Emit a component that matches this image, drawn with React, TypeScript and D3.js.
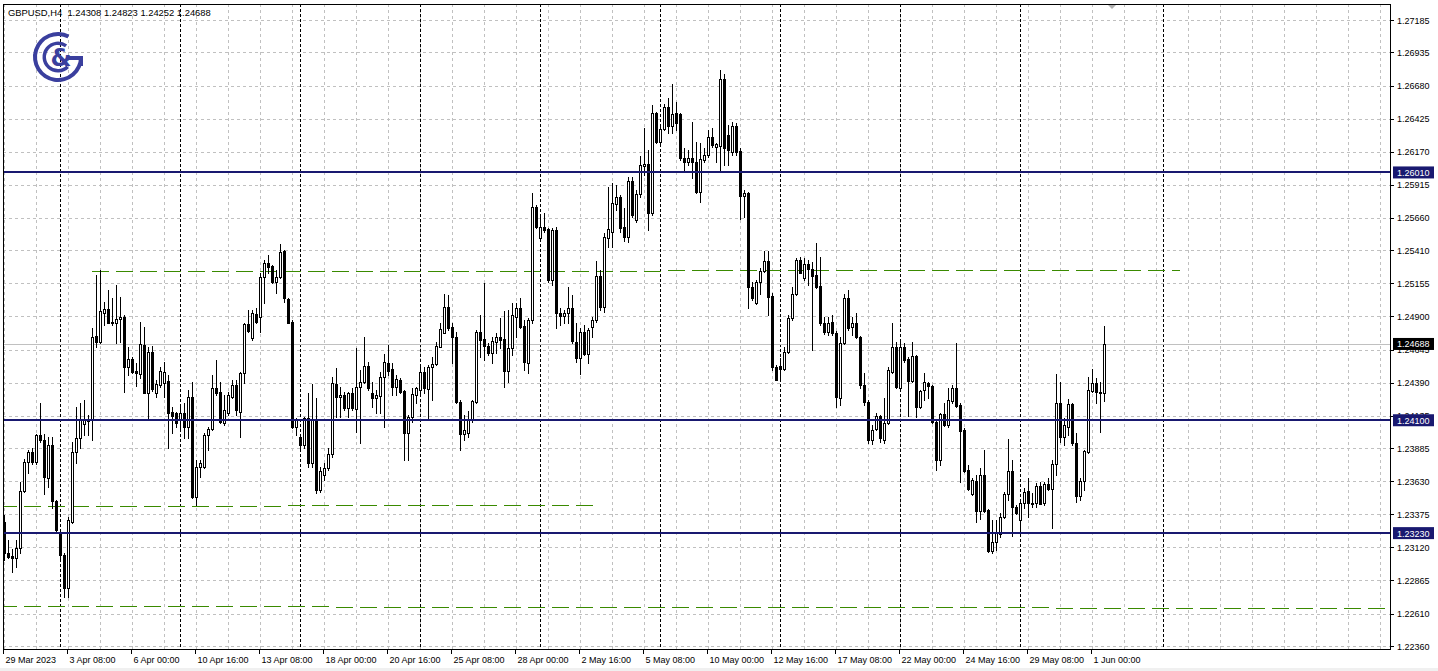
import * as d3 from 'd3'

const symbol = 'GBPUSD,H4'

// bar 0 = 29 Mar 2023 16:00, H4 bars
const open = [
  1.23316, 1.23077, 1.23054, 1.23038, 1.23115, 1.23554, 1.23779, 1.23856, 1.23779, 1.23986,
  1.23948, 1.23655, 1.23909, 1.23477, 1.23231, 1.23061, 1.22807, 1.23316, 1.23856, 1.23963,
  1.24071, 1.24094, 1.24102, 1.2475, 1.24704, 1.24927, 1.24958, 1.24858, 1.2485, 1.24881,
  1.24896, 1.2451, 1.24573, 1.24479, 1.24456, 1.2468, 1.2431, 1.24627, 1.2431, 1.24371,
  1.24387, 1.24402, 1.24164, 1.24156, 1.2411, 1.24156, 1.24048, 1.24279, 1.23508, 1.2374,
  1.2374, 1.23986, 1.24033, 1.24348, 1.24318, 1.24079, 1.24156, 1.24279, 1.24371, 1.24164,
  1.24464, 1.24842, 1.24734, 1.24919, 1.24896, 1.25204, 1.25312, 1.25289, 1.25166, 1.25204,
  1.25404, 1.25035, 1.24858, 1.24048, 1.23971, 1.23909, 1.24117, 1.23771, 1.24102, 1.23562,
  1.23678, 1.23732, 1.2384, 1.24379, 1.24279, 1.24294, 1.24194, 1.2431, 1.24187, 1.24356,
  1.24395, 1.24518, 1.2431, 1.24271, 1.24287, 1.24433, 1.24541, 1.24495, 1.24356, 1.2441,
  1.24325, 1.24002, 1.24125, 1.24294, 1.24333, 1.24472, 1.24341, 1.2451, 1.24533, 1.24665,
  1.24773, 1.24973, 1.24819, 1.24742, 1.24241, 1.23994, 1.24002, 1.24102, 1.24241, 1.24781,
  1.24727, 1.24673, 1.24619, 1.24704, 1.24742, 1.24727, 1.24479, 1.24657, 1.24896, 1.24965,
  1.24827, 1.24541, 1.24873, 1.25744, 1.25505, 1.2559, 1.25575, 1.25181, 1.25567, 1.24927,
  1.24904, 1.24927, 1.24965, 1.24704, 1.2458, 1.24781, 1.24611, 1.24819, 1.24873, 1.25212,
  1.24973, 1.25505, 1.25552, 1.25767, 1.25821, 1.2559, 1.25513, 1.25944, 1.25644, 1.25844,
  1.2606, 1.26075, 1.25698, 1.26468, 1.26245, 1.26345, 1.26515, 1.26368, 1.26468, 1.2646,
  1.26121, 1.26091, 1.26121, 1.26091, 1.2586, 1.26106, 1.26144, 1.26283, 1.26206, 1.26214,
  1.26731, 1.26298, 1.26168, 1.26368, 1.26175, 1.25829, 1.25852, 1.25127, 1.25004, 1.25166,
  1.2525, 1.25327, 1.25058, 1.2451, 1.24518, 1.24495, 1.24627, 1.24888, 1.25073, 1.25335,
  1.25196, 1.25304, 1.25266, 1.25219, 1.25135, 1.2485, 1.24781, 1.24858, 1.24773, 1.24271,
  1.24696, 1.25042, 1.24819, 1.2485, 1.24742, 1.24371, 1.24241, 1.23948, 1.24033, 1.24133,
  1.23948, 1.24079, 1.24472, 1.24665, 1.24348, 1.24665, 1.24573, 1.24402, 1.24596, 1.24202,
  1.24333, 1.24387, 1.24364, 1.24087, 1.23794, 1.24148, 1.24063, 1.24248, 1.24348, 1.24217,
  1.24025, 1.23717, 1.23531, 1.23632, 1.234, 1.23678, 1.23408, 1.23092, 1.23162, 1.23223,
  1.23354, 1.23531, 1.23709, 1.23431, 1.23331, 1.23462, 1.23554, 1.23462, 1.23462, 1.23594,
  1.23462, 1.23609, 1.23571, 1.23763, 1.24233, 1.23971, 1.24048, 1.24225, 1.23925, 1.23516,
  1.23632, 1.23856, 1.24325, 1.24387, 1.24318, 1.24308,
]

const high = [
  1.23369, 1.23177, 1.23108, 1.23177, 1.23625, 1.23802, 1.23871, 1.23886, 1.23994, 1.24233,
  1.23994, 1.23971, 1.23971, 1.23485, 1.23239, 1.23077, 1.23354, 1.23933, 1.24202, 1.24233,
  1.24256, 1.2414, 1.24811, 1.25219, 1.25258, 1.25012, 1.25104, 1.25042, 1.25142, 1.2505,
  1.24911, 1.24665, 1.24588, 1.24541, 1.24858, 1.24819, 1.24665, 1.24673, 1.2441, 1.2451,
  1.24549, 1.24448, 1.24202, 1.24164, 1.24202, 1.24233, 1.24333, 1.24395, 1.23794, 1.23794,
  1.24002, 1.24048, 1.24448, 1.24564, 1.24395, 1.24294, 1.24318, 1.2441, 1.2441, 1.24472,
  1.2485, 1.2495, 1.2495, 1.24965, 1.25235, 1.25335, 1.25373, 1.25296, 1.25258, 1.25458,
  1.25412, 1.25042, 1.24873, 1.24117, 1.23986, 1.24125, 1.2431, 1.24379, 1.24271, 1.2374,
  1.23771, 1.23886, 1.24433, 1.24502, 1.24356, 1.24318, 1.24318, 1.24348, 1.24657, 1.24487,
  1.24742, 1.24549, 1.24395, 1.24333, 1.24472, 1.24611, 1.2468, 1.24541, 1.24448, 1.24425,
  1.24333, 1.2414, 1.24348, 1.24356, 1.24525, 1.2451, 1.24525, 1.24588, 1.24704, 1.2485,
  1.25073, 1.25065, 1.2485, 1.24781, 1.24256, 1.2414, 1.24171, 1.24256, 1.24796, 1.24911,
  1.25158, 1.24696, 1.24742, 1.24773, 1.24888, 1.24942, 1.2495, 1.25004, 1.25004, 1.25042,
  1.24873, 1.24888, 1.25852, 1.25759, 1.25682, 1.25698, 1.25582, 1.25582, 1.2559, 1.24965,
  1.2495, 1.25127, 1.25065, 1.2485, 1.24811, 1.24834, 1.24811, 1.24896, 1.25327, 1.25258,
  1.25544, 1.25898, 1.25929, 1.25913, 1.25836, 1.25736, 1.25975, 1.25975, 1.25875, 1.26137,
  1.26352, 1.26183, 1.2653, 1.26476, 1.26375, 1.26538, 1.26584, 1.26692, 1.26553, 1.26468,
  1.26198, 1.26183, 1.26399, 1.26245, 1.26237, 1.26198, 1.26337, 1.26352, 1.26237, 1.268,
  1.26769, 1.26375, 1.26399, 1.26391, 1.26198, 1.25875, 1.2586, 1.25166, 1.25181, 1.25273,
  1.25404, 1.25404, 1.25081, 1.24525, 1.2458, 1.24665, 1.24911, 1.25127, 1.2535, 1.25358,
  1.2535, 1.25335, 1.2532, 1.25466, 1.25358, 1.24896, 1.24896, 1.24911, 1.24788, 1.24742,
  1.25073, 1.25104, 1.24896, 1.24927, 1.2475, 1.24464, 1.24256, 1.24063, 1.24156, 1.2414,
  1.24271, 1.2451, 1.2485, 1.24704, 1.24719, 1.24696, 1.24588, 1.24704, 1.24603, 1.24333,
  1.24464, 1.24395, 1.24371, 1.24102, 1.24156, 1.24233, 1.24348, 1.24371, 1.24696, 1.24233,
  1.2404, 1.23756, 1.23655, 1.23678, 1.23732, 1.23871, 1.23416, 1.23331, 1.23331, 1.23385,
  1.23547, 1.23956, 1.23794, 1.23446, 1.2347, 1.23578, 1.23655, 1.23539, 1.23617, 1.23625,
  1.23625, 1.23655, 1.23794, 1.24456, 1.24395, 1.24117, 1.24264, 1.24233, 1.24002, 1.23655,
  1.23871, 1.24433, 1.24495, 1.24425, 1.24395, 1.24823,
]

const low = [
  1.23023, 1.23038, 1.22931, 1.22969, 1.23077, 1.23547, 1.23694, 1.23763, 1.23763, 1.23933,
  1.23531, 1.23586, 1.23423, 1.23231, 1.23038, 1.22738, 1.22738, 1.23308, 1.23771, 1.23886,
  1.23986, 1.23986, 1.23948, 1.24665, 1.24696, 1.24834, 1.2485, 1.24834, 1.24696, 1.24704,
  1.24318, 1.24448, 1.24464, 1.24364, 1.24425, 1.2431, 1.2411, 1.24325, 1.24279, 1.24356,
  1.24279, 1.23886, 1.24002, 1.24048, 1.2404, 1.23963, 1.23963, 1.235, 1.23446, 1.23663,
  1.23732, 1.23871, 1.24025, 1.24294, 1.24079, 1.24063, 1.2414, 1.24271, 1.2414, 1.23971,
  1.24387, 1.24781, 1.24719, 1.2485, 1.24781, 1.25004, 1.25235, 1.25158, 1.25081, 1.25196,
  1.25012, 1.2485, 1.2404, 1.23986, 1.23886, 1.23886, 1.2374, 1.2374, 1.23539, 1.23547,
  1.2364, 1.23717, 1.23817, 1.24125, 1.24125, 1.24179, 1.24125, 1.24179, 1.2401, 1.23925,
  1.24387, 1.24333, 1.24202, 1.24156, 1.24156, 1.24048, 1.24448, 1.24294, 1.24294, 1.2431,
  1.23794, 1.23794, 1.24087, 1.24233, 1.2431, 1.2431, 1.24102, 1.24256, 1.24525, 1.24665,
  1.24773, 1.24796, 1.24541, 1.24233, 1.23871, 1.23948, 1.23971, 1.24087, 1.24233, 1.24588,
  1.24564, 1.24603, 1.24541, 1.24619, 1.24657, 1.24356, 1.24395, 1.24603, 1.24742, 1.24811,
  1.24487, 1.24464, 1.2485, 1.25582, 1.25489, 1.25552, 1.25166, 1.25142, 1.24811, 1.24834,
  1.2485, 1.2485, 1.24696, 1.24549, 1.24456, 1.24603, 1.24541, 1.24742, 1.24858, 1.2495,
  1.24935, 1.25435, 1.25435, 1.25721, 1.25552, 1.25481, 1.25474, 1.25667, 1.25629, 1.25821,
  1.2599, 1.25567, 1.25682, 1.26237, 1.26237, 1.26337, 1.26314, 1.26314, 1.26337, 1.26106,
  1.26029, 1.26067, 1.25967, 1.25852, 1.25783, 1.26091, 1.26129, 1.26206, 1.26091, 1.26014,
  1.26067, 1.26067, 1.26144, 1.26144, 1.25652, 1.25667, 1.24965, 1.25027, 1.24996, 1.25073,
  1.25243, 1.24911, 1.24487, 1.2441, 1.24425, 1.24487, 1.24619, 1.24873, 1.25065, 1.25235,
  1.25181, 1.25142, 1.24642, 1.25119, 1.24834, 1.24765, 1.24757, 1.24757, 1.24202, 1.24217,
  1.24688, 1.24796, 1.24757, 1.24734, 1.24348, 1.24217, 1.23925, 1.23917, 1.24025, 1.23933,
  1.23925, 1.24071, 1.24464, 1.24348, 1.24333, 1.24549, 1.24133, 1.24395, 1.24125, 1.24194,
  1.24256, 1.24271, 1.24079, 1.23717, 1.23756, 1.24056, 1.24048, 1.24233, 1.24202, 1.23625,
  1.23702, 1.23562, 1.23523, 1.23316, 1.23339, 1.23393, 1.23085, 1.23077, 1.231, 1.232,
  1.23346, 1.23485, 1.23208, 1.23377, 1.23231, 1.23423, 1.23354, 1.23431, 1.23431, 1.23462,
  1.23446, 1.23562, 1.23269, 1.23678, 1.23933, 1.23909, 1.23986, 1.23909, 1.2347, 1.23485,
  1.23562, 1.23848, 1.24318, 1.24233, 1.2401, 1.24252,
]

const close = [
  1.23077, 1.23046, 1.23038, 1.23115, 1.23554, 1.23779, 1.23856, 1.23779, 1.23986, 1.23948,
  1.23663, 1.23909, 1.23477, 1.23254, 1.23061, 1.22807, 1.23331, 1.23856, 1.23963, 1.24102,
  1.24102, 1.24102, 1.24742, 1.24704, 1.24942, 1.24958, 1.2485, 1.2485, 1.24881, 1.24896,
  1.2451, 1.24573, 1.24472, 1.24464, 1.24688, 1.2431, 1.24627, 1.24341, 1.24379, 1.24479,
  1.24472, 1.24156, 1.24133, 1.24079, 1.24156, 1.24048, 1.24279, 1.23508, 1.2374, 1.23771,
  1.23986, 1.24033, 1.24348, 1.2431, 1.24087, 1.24179, 1.24294, 1.24371, 1.24179, 1.24464,
  1.24842, 1.24788, 1.24927, 1.24858, 1.25204, 1.25312, 1.25281, 1.25166, 1.25204, 1.25397,
  1.25042, 1.2485, 1.24048, 1.24102, 1.23909, 1.24117, 1.23771, 1.24102, 1.23562, 1.23709,
  1.23732, 1.2384, 1.24387, 1.24279, 1.24294, 1.24194, 1.2431, 1.24194, 1.24356, 1.24395,
  1.24518, 1.24348, 1.24271, 1.24294, 1.24433, 1.24549, 1.24479, 1.24356, 1.24418, 1.24318,
  1.24002, 1.24125, 1.24302, 1.24348, 1.24472, 1.24348, 1.2451, 1.24533, 1.24673, 1.24804,
  1.24973, 1.24811, 1.24742, 1.24241, 1.23994, 1.24025, 1.24102, 1.24248, 1.24781, 1.24719,
  1.24673, 1.24619, 1.24711, 1.24742, 1.24719, 1.24479, 1.24657, 1.24911, 1.24965, 1.24819,
  1.24549, 1.24873, 1.25744, 1.2559, 1.2559, 1.25567, 1.25181, 1.25567, 1.24927, 1.24904,
  1.24927, 1.24965, 1.24711, 1.2458, 1.24781, 1.24611, 1.24796, 1.24873, 1.25212, 1.24973,
  1.25513, 1.25575, 1.25775, 1.25821, 1.25582, 1.25513, 1.25944, 1.25682, 1.25844, 1.26067,
  1.26075, 1.25698, 1.26468, 1.26245, 1.26345, 1.26515, 1.26368, 1.2646, 1.26391, 1.26121,
  1.26091, 1.26121, 1.26091, 1.2586, 1.26114, 1.26144, 1.26283, 1.26221, 1.26229, 1.26731,
  1.26198, 1.26183, 1.26368, 1.26168, 1.25829, 1.25852, 1.25127, 1.25042, 1.25166, 1.2525,
  1.25327, 1.2505, 1.2451, 1.2441, 1.24495, 1.24627, 1.24888, 1.25073, 1.25335, 1.25235,
  1.25304, 1.25266, 1.25212, 1.25127, 1.2485, 1.24781, 1.2485, 1.24773, 1.24279, 1.24696,
  1.25042, 1.24811, 1.2485, 1.24742, 1.24371, 1.24241, 1.23948, 1.24025, 1.24133, 1.23963,
  1.24079, 1.24487, 1.24665, 1.24356, 1.24665, 1.24564, 1.24402, 1.24596, 1.24202, 1.24325,
  1.24395, 1.24364, 1.24087, 1.23794, 1.24148, 1.24063, 1.24256, 1.24348, 1.2421, 1.24017,
  1.23709, 1.23571, 1.2364, 1.234, 1.23678, 1.234, 1.23092, 1.23162, 1.23231, 1.23354,
  1.23531, 1.23709, 1.23431, 1.23385, 1.23462, 1.23547, 1.23462, 1.23454, 1.23594, 1.23458,
  1.23609, 1.23571, 1.23763, 1.24233, 1.23971, 1.24063, 1.24225, 1.23925, 1.23516, 1.23632,
  1.23863, 1.24333, 1.24387, 1.24318, 1.2431, 1.24688,
]

const priceTicks = [
  1.2236, 1.2261, 1.22865, 1.2312, 1.23375, 1.2363, 1.23885, 1.24135, 1.2439, 1.24645,
  1.249, 1.25155, 1.2541, 1.2566, 1.25915, 1.2617, 1.26425, 1.2668, 1.26935, 1.27185,
]

// one label every 16 bars
const timeLabels = [
  '29 Mar 2023', '3 Apr 08:00', '6 Apr 00:00', '10 Apr 16:00', '13 Apr 08:00', '18 Apr 00:00',
  '20 Apr 16:00', '25 Apr 08:00', '28 Apr 00:00', '2 May 16:00', '5 May 08:00', '10 May 00:00',
  '12 May 16:00', '17 May 08:00', '22 May 00:00', '24 May 16:00', '29 May 08:00', '1 Jun 00:00',
]

// week separators (bar index)
const weekStarts = [14, 44, 74, 104, 134, 164, 194, 224, 254, 289.75]

const levels = [1.2601, 1.241, 1.2323]
const bid = 1.24688

// dashed green trend lines
const trendStartBar = [22, -1, -1]
const trendEndBar = [294, 148.25, 347]
const trendStartPrice = [1.2525, 1.23439, 1.22668]
const trendEndPrice = [1.25258, 1.23447, 1.22653]

const W = 1438
const H = 671
const left = 3
const right = 1390
const top = 4
const bottom = 649
const navy = '#191970'
const green = '#3a8a00'
const font = '"Liberation Sans", Arial, sans-serif'

const App = () => {
  const x = d3.scaleLinear().domain([0, 275]).range([4, 1104])
  const y = d3.scaleLinear().domain([1.2236, 1.27185]).range([646, 20])
  const gridBars = d3.range(0, 345, 8)
  const fmt = (v: number) => v.toFixed(5)

  const outerArc = d3.arc()({ innerRadius: 21, outerRadius: 25, startAngle: Math.PI * 0.5, endAngle: Math.PI * 2.15 } as any) as string
  const innerArc = d3.arc()({ innerRadius: 12, outerRadius: 15.5, startAngle: Math.PI * 0.75, endAngle: Math.PI * 2.2 } as any) as string

  return (
    <svg width={W} height={H} style={{ position: 'absolute', left: 0, top: 0, background: '#fff' }} fontFamily={font}>
      <defs>
        <clipPath id="plot">
          <rect x={left + 1} y={top + 1} width={right - left - 1} height={bottom - top - 1} />
        </clipPath>
      </defs>
      <rect x={0} y={668} width={W} height={3} fill="#f0f0f0" />

      <g clipPath="url(#plot)" shapeRendering="crispEdges">
        {/* grid */}
        {priceTicks.map((p) => (
          <line key={'h' + p} x1={left} x2={right} y1={Math.round(y(p)) + 0.5} y2={Math.round(y(p)) + 0.5}
            stroke="#c0c0c0" strokeDasharray="3,3" />
        ))}
        {gridBars.map((b) => (
          <line key={'v' + b} x1={Math.round(x(b)) + 0.5} x2={Math.round(x(b)) + 0.5} y1={top} y2={bottom}
            stroke="#c0c0c0" strokeDasharray="3,3" />
        ))}
        {weekStarts.map((b) => (
          <line key={'s' + b} x1={Math.round(x(b)) + 0.5} x2={Math.round(x(b)) + 0.5} y1={top} y2={bottom}
            stroke="#000" strokeDasharray="3,2" />
        ))}

        {/* bid line */}
        <line x1={left} x2={right} y1={Math.round(y(bid)) + 0.5} y2={Math.round(y(bid)) + 0.5} stroke="#c0c0c0" />

        {/* trend lines */}
        {trendStartBar.map((b, i) => (
          <line key={'t' + i} x1={x(b)} x2={x(trendEndBar[i])} y1={y(trendStartPrice[i]) + 0.5} y2={y(trendEndPrice[i]) + 0.5}
            stroke={green} strokeDasharray="17,7" />
        ))}

        {/* candles */}
        {open.map((o, i) => {
          const c = close[i]
          const cx = Math.round(x(i))
          const yh = Math.round(y(high[i]))
          const yl = Math.round(y(low[i]))
          const yt = Math.round(y(Math.max(o, c)))
          const yb = Math.round(y(Math.min(o, c)))
          const bull = c > o
          return (
            <g key={i}>
              <line x1={cx + 0.5} x2={cx + 0.5} y1={yh} y2={yl + 1} stroke="#000" />
              <rect x={cx - 0.5} y={yt + 0.5} width={2} height={Math.max(yb - yt, 0)}
                fill={bull ? '#fff' : '#000'} stroke="#000" />
            </g>
          )
        })}

        {/* levels */}
        {levels.map((p) => (
          <line key={'l' + p} x1={left} x2={right} y1={y(p)} y2={y(p)} stroke={navy} strokeWidth={2} />
        ))}
      </g>

      {/* frame */}
      <rect x={left + 0.5} y={top + 0.5} width={right - left} height={bottom - top} fill="none" stroke="#000" shapeRendering="crispEdges" />
      <path d="M1108,5 L1116,5 L1112,9 Z" fill="#b0b0b0" />

      {/* price axis */}
      {priceTicks.map((p) => (
        <g key={'pt' + p}>
          <line x1={right + 1} x2={right + 4} y1={Math.round(y(p)) + 0.5} y2={Math.round(y(p)) + 0.5} stroke="#000" shapeRendering="crispEdges" />
          <text x={1397} y={y(p) + 3.5} fontSize={9} fill="#000">{fmt(p)}</text>
        </g>
      ))}
      {levels.map((p) => (
        <g key={'lb' + p}>
          <rect x={1393} y={y(p) - 6} width={41} height={12} fill={navy} />
          <text x={1397} y={y(p) + 3.5} fontSize={9} fill="#fff">{fmt(p)}</text>
        </g>
      ))}
      <rect x={1393} y={y(bid) - 6} width={41} height={12} fill="#000" />
      <text x={1397} y={y(bid) + 3.5} fontSize={9} fill="#fff">{fmt(bid)}</text>

      {/* time axis */}
      {timeLabels.map((t, k) => {
        const tx = Math.round(x(k * 16)) - 0.5
        return (
          <g key={'tl' + k}>
            <line x1={tx} x2={tx} y1={bottom + 1} y2={bottom + 5} stroke="#000" shapeRendering="crispEdges" />
            <text x={tx + 2} y={663} fontSize={9} fill="#000">{t}</text>
          </g>
        )
      })}

      {/* header */}
      <text x={8} y={16} fontSize={9.4} fill="#000" style={{ whiteSpace: 'pre' }}>
        {`${symbol}  ${fmt(open[275])} ${fmt(high[275])} ${fmt(low[275])} ${fmt(close[275])}`}
      </text>

      {/* logo */}
      <g transform="translate(58,57)" fill="#3a3f9e">
        <path d={outerArc} />
        <rect x={9} y={-1} width={16} height={4} />
        <rect x={21} y={-1} width={4} height={10} />
        <path d={innerArc} />
        <text x={3} y={9} fontSize={24} fontWeight="bold" textAnchor="middle" fontFamily='"DejaVu Sans", sans-serif'>&amp;</text>
      </g>
    </svg>
  )
}

export default App
